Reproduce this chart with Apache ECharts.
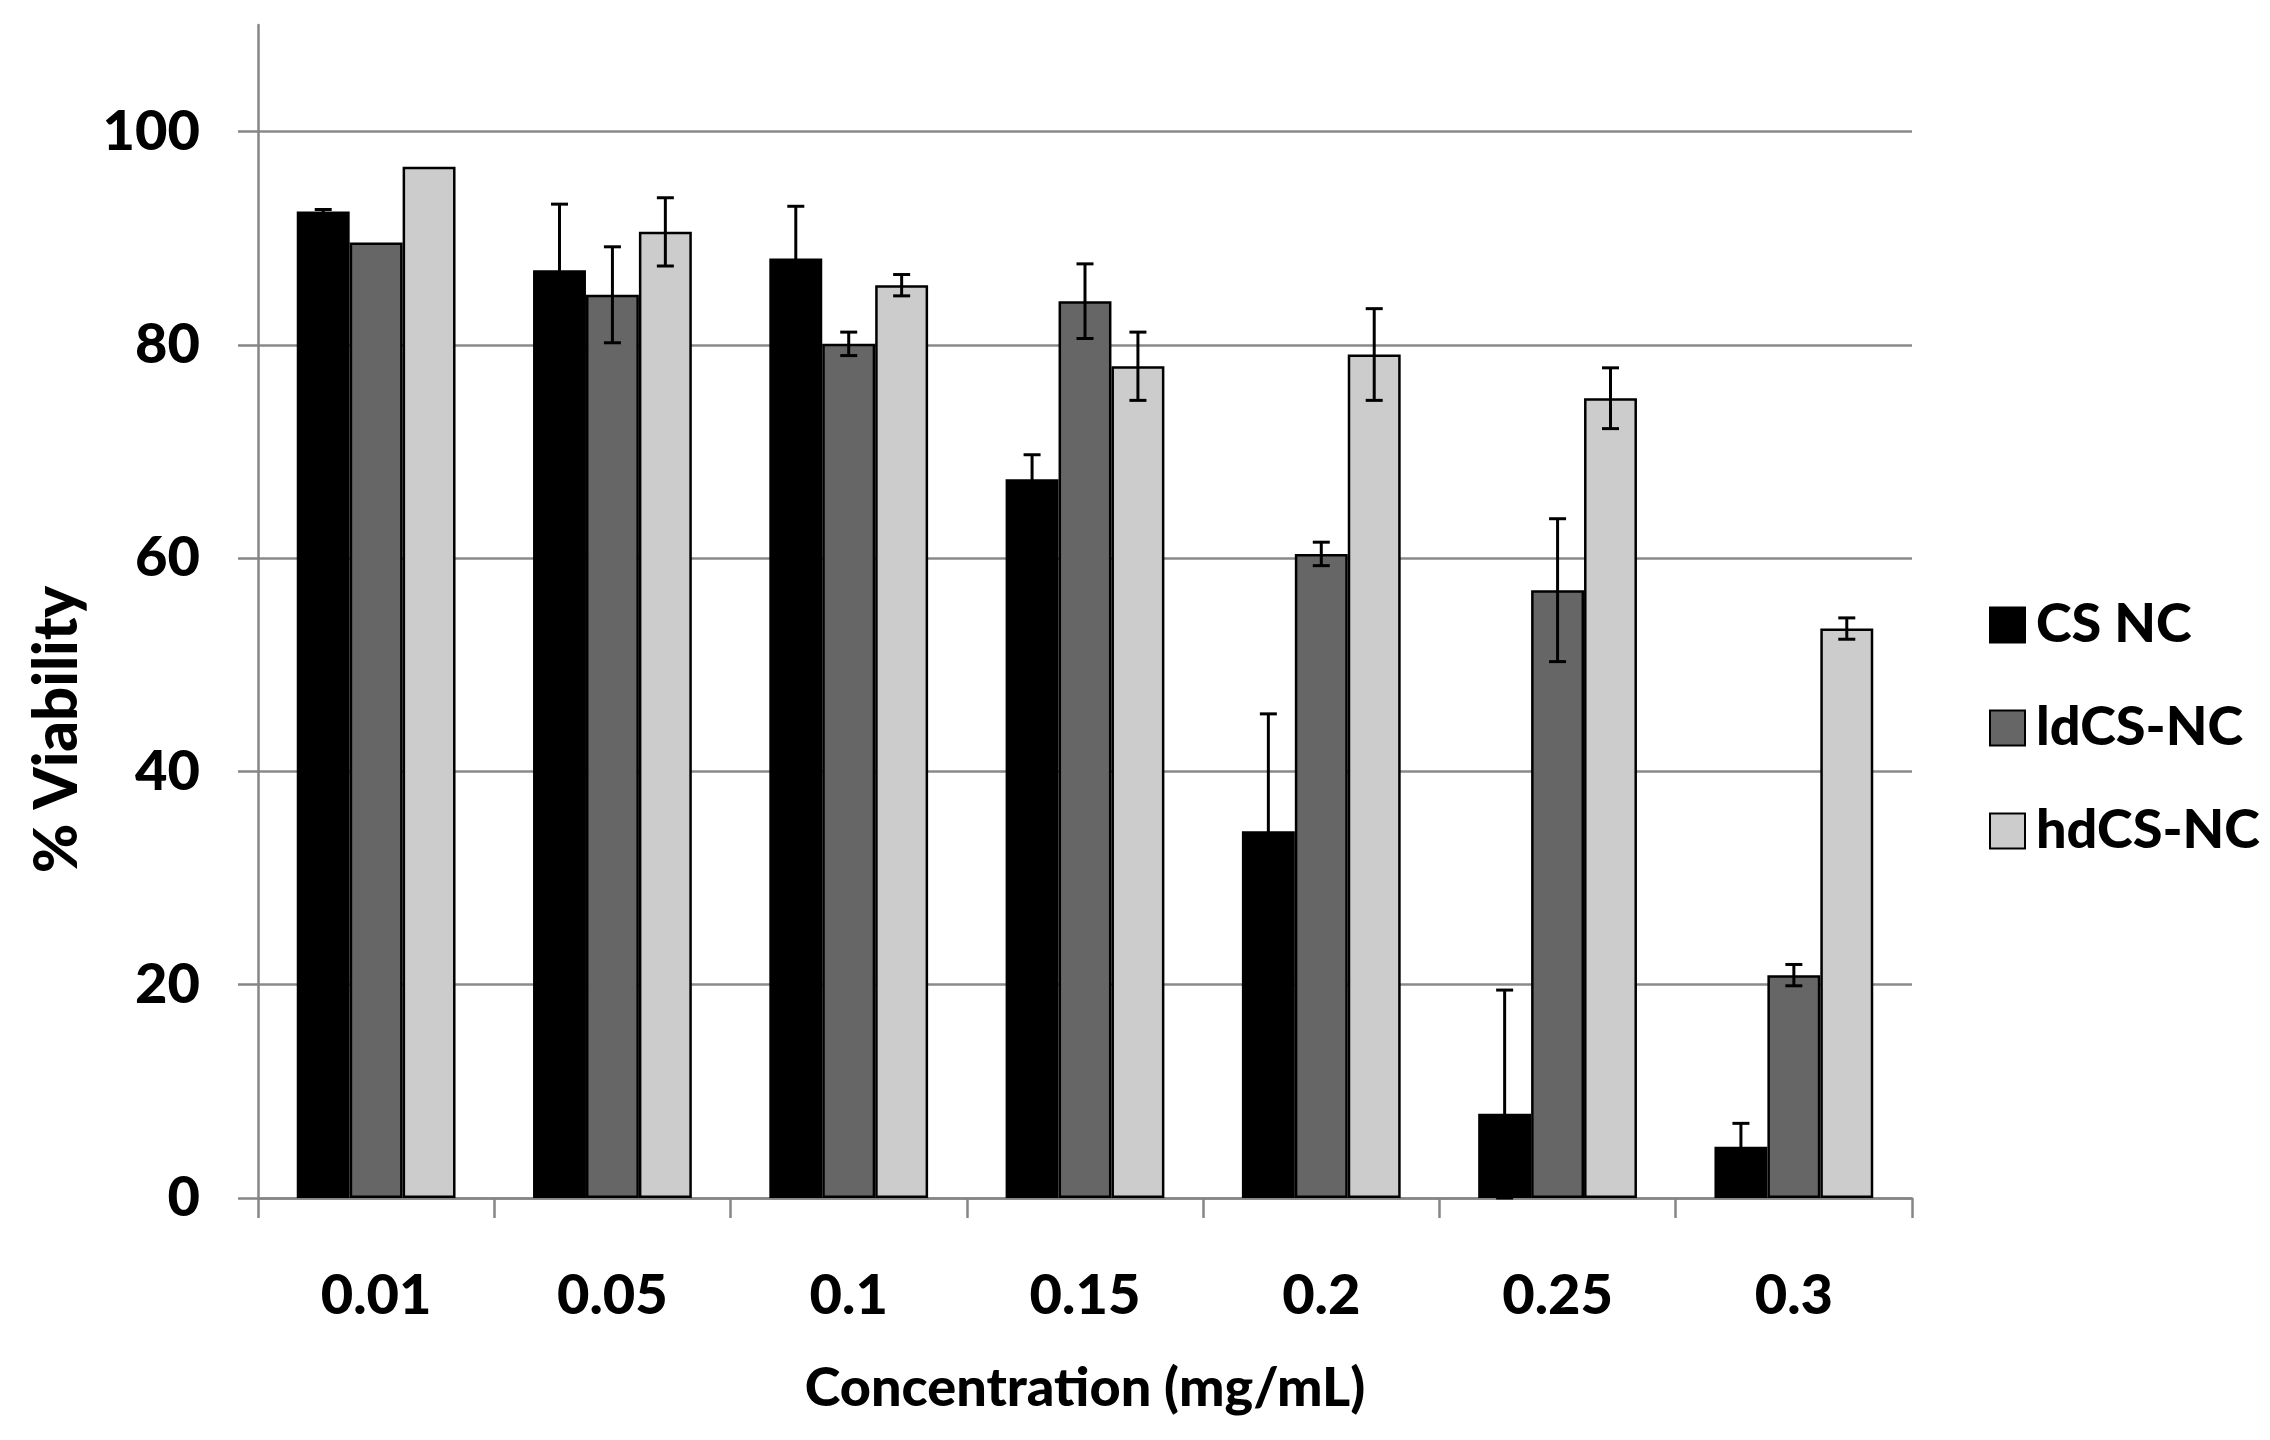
<!DOCTYPE html>
<html>
<head>
<meta charset="utf-8">
<script src="https://cdn.jsdelivr.net/npm/echarts@6/dist/echarts.min.js"></script>
<style>
html,body{margin:0;padding:0;background:#fff;}
#chart{width:2270px;height:1440px;}
</style>
</head>
<body>
<div id="chart"></div>
<script>
var categories = ['0.01', '0.05', '0.1', '0.15', '0.2', '0.25', '0.3'];
var seriesNames = ['CS NC', 'ldCS-NC', 'hdCS-NC'];
var csValues = [92.5, 87.0, 88.1, 67.4, 34.4, 7.9, 4.8];
var csErrors = [0.2, 6.2, 4.9, 2.3, 11.0, 11.6, 2.2];
var ldValues = [89.6, 84.7, 80.1, 84.1, 60.4, 57.0, 20.9];
var ldErrors = [0, 4.5, 1.1, 3.5, 1.1, 6.7, 1.0];
var hdValues = [96.7, 90.6, 85.6, 78.0, 79.1, 75.0, 53.4];
var hdErrors = [0, 3.2, 1.0, 3.2, 4.3, 2.85, 1.0];
var yTickLabels = [0, 20, 40, 60, 80, 100];

var FONT = 'Lato, "Open Sans", sans-serif';
var WEIGHT = 900;
var BAR_FRAC = 0.224;
var colors = ['#000000', '#666666', '#cccccc'];

function barSeries(idx, vals) {
  return {
    name: seriesNames[idx],
    type: 'bar',
    data: vals,
    barWidth: (BAR_FRAC * 100) + '%',
    barGap: '0%',
    itemStyle: { color: colors[idx], borderColor: '#000', borderWidth: 2.5 },
    z: 2
  };
}

function errSeries(idx, vals, errs) {
  return {
    name: seriesNames[idx] + ' error',
    type: 'custom',
    z: 10,
    silent: true,
    data: vals.map(function (v, i) { return [i, v, errs[i]]; }),
    encode: { x: 0, y: 1 },
    renderItem: function (params, api) {
      var i = api.value(0), v = api.value(1), e = api.value(2);
      if (!e) return null;
      var band = api.size([1, 0])[0];
      var w = band * BAR_FRAC;
      var cx = api.coord([i, v])[0] + (idx - 1) * w;
      var yHi = api.coord([i, v + e])[1];
      var yLo = api.coord([i, Math.max(0, v - e)])[1];
      var cap = 8.5;
      var st = { stroke: '#000', lineWidth: 3, fill: null };
      return {
        type: 'group',
        children: [
          { type: 'line', shape: { x1: cx, y1: yHi, x2: cx, y2: yLo }, style: st },
          { type: 'line', shape: { x1: cx - cap, y1: yHi, x2: cx + cap, y2: yHi }, style: st },
          { type: 'line', shape: { x1: cx - cap, y1: yLo, x2: cx + cap, y2: yLo }, style: st }
        ]
      };
    }
  };
}

var chart = echarts.init(document.getElementById('chart'));
chart.setOption({
  animation: false,
  backgroundColor: '#ffffff',
  textStyle: { fontFamily: FONT, fontWeight: WEIGHT, color: '#000' },
  grid: { left: 258, right: 358, top: 25, bottom: 242, containLabel: false },
  legend: {
    data: seriesNames,
    orient: 'vertical',
    left: 1984,
    top: 590,
    itemWidth: 35,
    itemHeight: 35,
    itemGap: 43,
    icon: 'rect',
    textStyle: { fontFamily: FONT, fontWeight: WEIGHT, fontSize: 54, color: '#000', lineHeight: 60, padding: [0, 0, 0, 6] }
  },
  xAxis: {
    type: 'category',
    data: categories,
    name: 'Concentration (mg/mL)',
    nameLocation: 'middle',
    nameGap: 164,
    nameTextStyle: { fontFamily: FONT, fontWeight: WEIGHT, fontSize: 54, color: '#000' },
    axisLine: { show: true, lineStyle: { color: '#868686', width: 2.5 } },
    axisTick: { show: true, length: 20, lineStyle: { color: '#868686', width: 2.5 } },
    axisLabel: { margin: 70, fontFamily: FONT, fontWeight: WEIGHT, fontSize: 56, color: '#000' },
    splitLine: { show: false }
  },
  yAxis: {
    type: 'value',
    min: 0,
    max: 110,
    interval: 10,
    name: '% Viability',
    nameLocation: 'middle',
    nameGap: 170,
    nameTextStyle: { fontFamily: FONT, fontWeight: WEIGHT, fontSize: 60, color: '#000', padding: [0, 236, 0, 0] },
    axisLine: { show: true, lineStyle: { color: '#868686', width: 2.5 } },
    axisTick: { show: true, length: 20, customValues: yTickLabels, lineStyle: { color: '#868686', width: 2.5 } },
    axisLabel: { customValues: yTickLabels, margin: 58, fontFamily: FONT, fontWeight: WEIGHT, fontSize: 56, color: '#000' },
    splitLine: { show: true, lineStyle: { color: '#8a8a8a', width: 2.5 } }
  },
  series: [
    barSeries(0, csValues),
    barSeries(1, ldValues),
    barSeries(2, hdValues),
    errSeries(0, csValues, csErrors),
    errSeries(1, ldValues, ldErrors),
    errSeries(2, hdValues, hdErrors)
  ]
});
</script>
</body>
</html>
